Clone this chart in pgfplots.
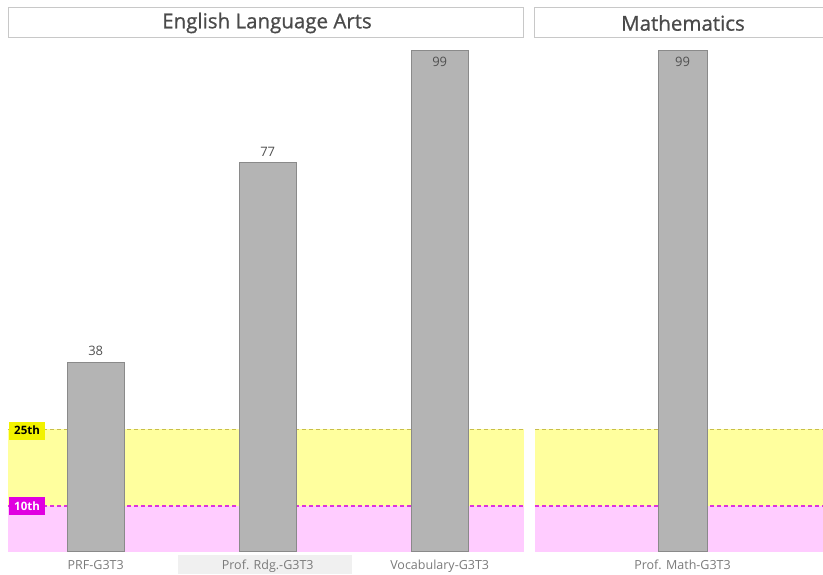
\documentclass[border=0pt]{standalone}
\usepackage{fontspec}
\setmainfont{Open Sans}
\newfontfamily\hdrfont[FakeBold=0.8]{Open Sans}
\usepackage{pgfplots}
\pgfplotsset{compat=1.18}
\definecolor{barfill}{HTML}{B4B4B4}
\definecolor{barline}{HTML}{8A8A8A}
\definecolor{yband}{HTML}{FFFF9E}
\definecolor{pband}{HTML}{FFCCFF}
\definecolor{yline}{HTML}{C9BE4A}
\definecolor{pline}{HTML}{DD33DD}
\definecolor{ylabel}{HTML}{F2F200}
\definecolor{plabel}{HTML}{E000E0}
\definecolor{hdrline}{HTML}{C8C8C8}
\definecolor{hdrtext}{HTML}{4A4A4A}
\definecolor{ticktext}{HTML}{7A7A7A}
\definecolor{valtext}{HTML}{505050}
\definecolor{hilite}{HTML}{F0F0F0}

\tikzset{
  pctlabel/.style={anchor=west, inner sep=1.5pt, font=\bfseries\fontsize{11.5}{13}\selectfont, minimum width=36pt, minimum height=18pt, align=left},
}
\pgfplotsset{
  panel/.style={scale only axis, height=511pt, ymin=1.21, ymax=100.94,
    axis line style={draw=none}, ytick=\empty, major tick length=0pt,
    xticklabel style={font=\fontsize{12.5}{14}\selectfont, text=ticktext, anchor=base, yshift=-18pt},
    /pgf/number format/assume math mode=true,
    anchor=south west},
  band/.style={draw=none, forget plot},
  refline/.style={dash pattern=on 4pt off 3pt, line width=1.2pt, forget plot},
  bars/.style={ybar, bar shift=0pt, fill=barfill, draw=barline, line width=0.8pt,
    nodes near coords, every node near coord/.append style={font=\fontsize{13}{15}\selectfont, text=valtext, inner sep=0pt}},
}

\begin{document}
\begin{tikzpicture}
\path[use as bounding box] (0pt,0pt) rectangle (823pt,574pt);
\clip (0pt,0pt) rectangle (823pt,574pt);
\fill[hilite] (178pt,0pt) rectangle (352pt,19pt);
% headers
\draw[hdrline, line width=0.8pt] (8pt,537pt) rectangle (523pt,567pt);
\node[text=hdrtext, font=\hdrfont\fontsize{20.5}{24}\selectfont] at (267pt,551pt) {English Language Arts};
\draw[hdrline, line width=0.8pt] (534pt,537pt) rectangle (840pt,567pt);
\node[text=hdrtext, font=\hdrfont\fontsize{20.5}{24}\selectfont] at (683pt,551pt) {Mathematics};

\begin{axis}[panel, at={(8pt,23pt)}, width=516pt, xmin=-0.51, xmax=2.49,
  xtick={0,1,2}, xticklabels={PRF-G3T3, Prof. Rdg.-G3T3, Vocabulary-G3T3}]
\addplot[band, fill=pband] coordinates {(-0.51,0) (2.49,0) (2.49,10) (-0.51,10)} -- cycle;
\addplot[band, fill=yband] coordinates {(-0.51,10) (2.49,10) (2.49,25) (-0.51,25)} -- cycle;
\addplot[refline, color=yline] coordinates {(-0.51,25) (2.49,25)};
\addplot[refline, color=pline] coordinates {(-0.51,10) (2.49,10)};
\addplot[bars, bar width=57pt, every node near coord/.append style={anchor=south, yshift=6pt}] coordinates {(0,38) (1,77)};
\addplot[bars, bar width=57pt, every node near coord/.append style={anchor=north, yshift=-7pt}] coordinates {(2,99)};
\node[pctlabel, fill=ylabel, text=black, yshift=-1.5pt] at (axis cs:-0.505,25) {25th};
\node[pctlabel, fill=plabel, text=white] at (axis cs:-0.505,10) {10th};
\end{axis}

\begin{axis}[panel, at={(535pt,23pt)}, width=288pt, xmin=-0.5, xmax=0.476,
  xtick={0}, xticklabels={Prof. Math-G3T3}]
\addplot[band, fill=pband] coordinates {(-0.5,0) (0.476,0) (0.476,10) (-0.5,10)} -- cycle;
\addplot[band, fill=yband] coordinates {(-0.5,10) (0.476,10) (0.476,25) (-0.5,25)} -- cycle;
\addplot[refline, color=yline] coordinates {(-0.5,25) (0.476,25)};
\addplot[refline, color=pline] coordinates {(-0.5,10) (0.476,10)};
\addplot[bars, bar width=49pt, every node near coord/.append style={anchor=north, yshift=-7pt}] coordinates {(0,99)};
\end{axis}
\end{tikzpicture}
\end{document}
